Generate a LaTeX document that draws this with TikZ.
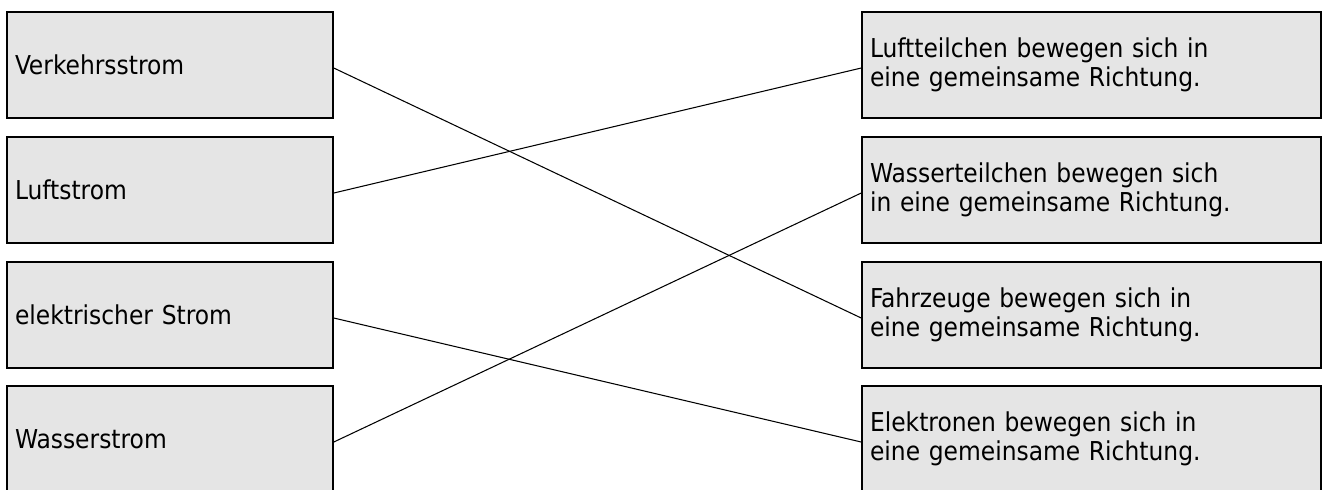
\documentclass[tikz,border=0pt]{standalone}
\usepackage{fontspec}
\setmainfont{DejaVu Sans Condensed}
\usepackage{tikz}
\usetikzlibrary{calc,positioning}

\tikzset{
	feld/.style={draw=black,line width=0.45pt,fill=black!10,align=left,anchor=center,
		inner xsep=0.8mm,inner ysep=0pt,font=\fontsize{7.4}{8.4}\selectfont},
	links/.style={feld,minimum width=32.6mm,minimum height=10.6mm,text width=31mm},
	rechts/.style={feld,minimum width=45.9mm,minimum height=10.6mm,text width=44.3mm},
	zuordnung/.style={line width=0.3pt,black,transform canvas={yshift=-0.3mm}}
}

\begin{document}
\begin{tikzpicture}[x=0.1mm,y=-0.1mm]
		\useasboundingbox (0,0) rectangle (1325,489);
		% linke Spalte
		\node[links] (verkehr) at (170,65) {Verkehrsstrom};
		\node[links] (luft) at (170,190) {Luftstrom};
		\node[links] (elektro) at (170,315) {elektrischer Strom};
		\node[links] (wasser) at (170,439) {Wasserstrom};
		% rechte Spalte
		\node[rechts] (luftteil) at (1091.5,65) {Luftteilchen bewegen sich in\\eine gemeinsame Richtung.};
		\node[rechts] (wasserteil) at (1091.5,190) {Wasserteilchen bewegen sich\\in eine gemeinsame Richtung.};
		\node[rechts] (fahrzeug) at (1091.5,315) {Fahrzeuge bewegen sich in\\eine gemeinsame Richtung.};
		\node[rechts] (elektron) at (1091.5,439) {Elektronen bewegen sich in\\eine gemeinsame Richtung.};
		% Zuordnungen
		\draw[zuordnung] (verkehr.east) -- (fahrzeug.west);
		\draw[zuordnung] (luft.east) -- (luftteil.west);
		\draw[zuordnung] (elektro.east) -- (elektron.west);
		\draw[zuordnung] (wasser.east) -- (wasserteil.west);
	\end{tikzpicture}
\end{document}
